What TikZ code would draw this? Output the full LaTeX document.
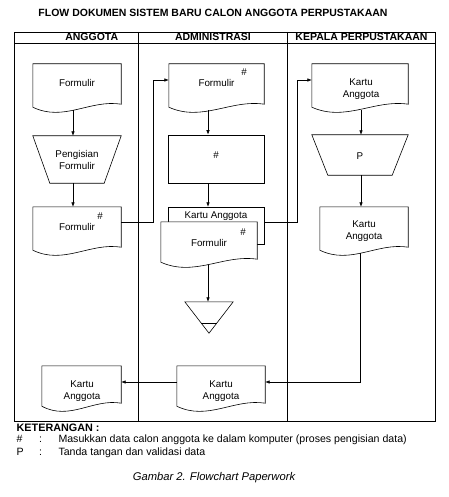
\documentclass[tikz,border=0pt]{standalone}
\usepackage{fontspec}
\setmainfont{Liberation Sans}
\usetikzlibrary{calc,arrows.meta}
\newcommand\drawdoc[2][]{\draw[shp,#1] (#2.south west) -- (#2.north west) -- (#2.north east) -- ([yshift=3pt]#2.south east) .. controls ($(#2.south west)!0.65!(#2.south east)+(0pt,8pt)$) and ($(#2.south west)!0.35!(#2.south east)+(0pt,-15pt)$) .. (#2.south west) -- cycle;}
\newcommand\drawtrap[2]{\draw[shp] (#1.north west) -- (#1.north east) -- ([xshift=-#2]#1.south east) -- ([xshift=#2]#1.south west) -- cycle;}
\begin{document}
\begin{tikzpicture}[x=1pt,y=-1pt,
  lane/.style={line width=0.7pt},
  shp/.style={line width=0.6pt},
  arr/.style={line width=0.6pt,-{Latex[length=4.5pt,width=3.5pt]}},
  txt/.style={font=\fontsize{9.8}{11.8}\selectfont,align=center,inner sep=0pt},
  hdr/.style={font=\fontsize{10.5}{12}\selectfont\bfseries,inner sep=0pt,anchor=base},
  leg/.style={font=\fontsize{10.6}{12}\selectfont,inner sep=0pt,anchor=base west},
  sz/.style 2 args={minimum width=#1pt,minimum height=#2pt,inner sep=0pt,draw=none}]
\useasboundingbox (0,0) rectangle (448,497);
\fill[white] (0,0) rectangle (448,497);
% title
\node[hdr] (title) at (213,16.7) {FLOW DOKUMEN SISTEM BARU CALON ANGGOTA PERPUSTAKAAN};
% frame and lanes
\draw[lane] (14,32) rectangle (435,421);
\draw[lane] (14,43.3) -- (435,43.3);
\draw[lane] (138.5,32) -- (138.5,421);
\draw[lane] (287.5,32) -- (287.5,421);
\node[hdr] (h1) at (91.7,41) {ANGGOTA};
\node[hdr] (h2) at (213,41) {ADMINISTRASI};
\node[hdr] (h3) at (361.5,41) {KEPALA PERPUSTAKAAN};
% ANGGOTA lane
\node[sz={88}{43}] (L1) at (77,85.5) {};
\drawdoc{L1}
\node[txt] (L1t) at (77,83) {Formulir};
\node[sz={88}{47}] (L2) at (77,159.5) {};
\drawtrap{L2}{17pt}
\node[txt] (L2t) at (77,160) {Pengisian\\Formulir};
\node[sz={88}{43}] (L3) at (77,228.5) {};
\drawdoc{L3}
\node[txt] (L3h) at (100,216) {\#};
\node[txt] (L3t) at (77,227) {Formulir};
\node[sz={79}{40}] (L4) at (81.5,386) {};
\drawdoc{L4}
\node[txt] (L4t) at (82,391) {Kartu\\Anggota};
% ADMINISTRASI lane
\node[sz={95}{43}] (A1) at (216.5,85.5) {};
\drawdoc{A1}
\node[txt] (A1h) at (244,72) {\#};
\node[txt] (A1t) at (216.5,83) {Formulir};
\node[sz={96}{48},draw,shp] (A2) at (216,159) {};
\node[txt] (A2t) at (216,155) {\#};
\node[sz={96}{37}] (A3) at (216,225.5) {};
\draw[shp] ([yshift=-15pt]A3.north west) -- (A3.north west) -- (A3.north east) -- (A3.south east) -- ++(-7,0);
\node[txt] (A3t) at (216,216) {Kartu Anggota};
\node[sz={96}{40}] (A4) at (209,242) {};
\drawdoc[fill=white]{A4}
\node[txt] (A4h) at (243,232) {\#};
\node[txt] (A4t) at (209,243) {Formulir};
\node[sz={48}{31}] (A5) at (209,317.5) {};
\draw[shp] (A5.north west) -- (A5.north east) -- (A5.south) -- cycle;
\draw[shp] ($(A5.south)+(-7.7pt,10pt)$) -- ($(A5.south)+(7.7pt,10pt)$);
\node[sz={88}{40}] (A6) at (221,386) {};
\drawdoc{A6}
\node[txt] (A6t) at (221,391) {Kartu\\Anggota};
% KEPALA lane
\node[sz={96}{43}] (K1) at (360,85.5) {};
\drawdoc{K1}
\node[txt] (K1t) at (361,89) {Kartu\\Anggota};
\node[sz={96}{40}] (K2) at (360,155) {};
\drawtrap{K2}{16pt}
\node[txt] (K2t) at (360,156) {P};
\node[sz={88}{43}] (K3) at (364,228.5) {};
\drawdoc{K3}
\node[txt] (K3t) at (364,231) {Kartu\\Anggota};
% connectors
\draw[arr] ([xshift=-4pt,yshift=-3pt]L1.south) -- ([xshift=-4pt]L2.north);
\draw[arr] ([xshift=-4pt]L2.south) -- ([xshift=-4pt]L3.north);
\draw[arr] ([yshift=6.5pt]L3.east) -- ++(32,0) |- ([yshift=5.5pt]A1.west);
\draw[arr] ([xshift=-8.5pt,yshift=-3pt]A1.south) -- ([xshift=-8pt]A2.north);
\draw[arr] ([xshift=-8pt]A2.south) -- ([xshift=-8pt]A3.north);
\draw[arr] ([yshift=3.5pt]A3.east) -- ++(33,0) |- ([yshift=5.5pt]K1.west);
\draw[arr] ([xshift=1pt,yshift=-3pt]K1.south) -- ([xshift=1pt]K2.north);
\draw[arr] ([xshift=1pt]K2.south) -- ([xshift=-3pt]K3.north);
\draw[arr] ([xshift=-1pt,yshift=-3pt]A4.south) -- ([xshift=-1pt]A5.north);
\draw[arr] ([xshift=-4pt,yshift=-3pt]K3.south) |- ([yshift=4pt]A6.east);
\draw[arr] ([yshift=4pt]A6.west) -- ([yshift=4pt]L4.east);
% legend
\node[leg,font=\fontsize{10.8}{12}\selectfont\bfseries] (k0) at (16.5,431) {KETERANGAN :};
\node[leg] (k1a) at (16.5,442) {\#};
\node[leg] (k1b) at (39,442) {:};
\node[leg] (k1c) at (58.3,442) {Masukkan data calon anggota ke dalam komputer (proses pengisian data)};
\node[leg] (k2a) at (16.5,455) {P};
\node[leg] (k2b) at (39,455) {:};
\node[leg] (k2c) at (58.3,455) {Tanda tangan dan validasi data};
\node[font=\fontsize{11.2}{12}\selectfont\itshape,inner sep=0pt,anchor=base] (cap) at (214,480) {Gambar 2. Flowchart Paperwork};
\end{tikzpicture}
\end{document}
